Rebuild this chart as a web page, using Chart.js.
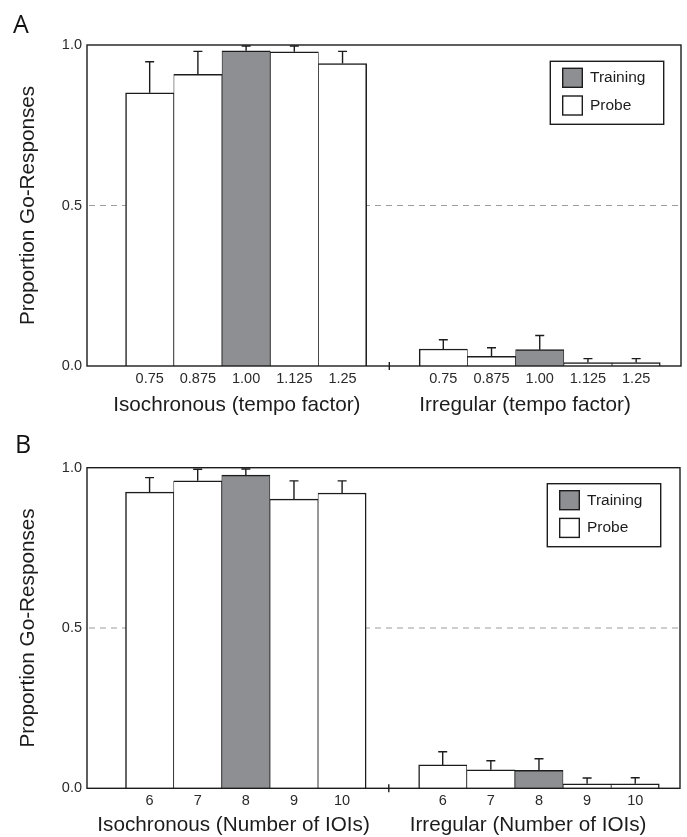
<!DOCTYPE html>
<html><head><meta charset="utf-8">
<script src="https://cdn.jsdelivr.net/npm/chart.js@4.4.1/dist/chart.umd.min.js"></script>
<style>
html,body{margin:0;padding:0;background:#fff;}
#wrap{position:relative;width:687px;height:837px;overflow:hidden;background:#fff;}
canvas{position:absolute;left:0;}
#ca{top:0;width:687px;height:418px;}
#cb{top:418px;width:687px;height:419px;}
</style></head><body>
<div id="wrap"><canvas id="ca" width="687" height="418"></canvas><canvas id="cb" width="687" height="419"></canvas></div>
<script>
// ---- data ----
const seriesNames = ['Training', 'Probe'];
const tempoLabels = ['0.75', '0.875', '1.00', '1.125', '1.25'];
const ioiLabels = ['6', '7', '8', '9', '10'];
const trainingIndex = 2;

const isoTempoMeans = [0.851, 0.909, 0.982, 0.979, 0.942];
const isoTempoErr   = [0.097, 0.071, 0.015, 0.018, 0.038];
const irrTempoMeans = [0.053, 0.030, 0.051, 0.011, 0.011];
const irrTempoErr   = [0.029, 0.027, 0.044, 0.012, 0.012];

const isoIoiMeans = [0.924, 0.959, 0.977, 0.902, 0.921];
const isoIoiErr   = [0.045, 0.036, 0.019, 0.057, 0.038];
const irrIoiMeans = [0.073, 0.058, 0.056, 0.014, 0.014];
const irrIoiErr   = [0.041, 0.028, 0.036, 0.018, 0.019];

const yTicks = [0, 0.5, 1.0];
const chanceLevel = 0.5;

// ---- layout / style ----
const FONT = '"Liberation Sans", Arial, Helvetica, sans-serif';
const INK = '#1c1c1c';
const GRAY = '#8e8f92';
const GROUP_START = [1.3, 7.39];
const X_MAX = 12.32;
const SEPARATOR = 6.27;

function makePanel(cfg) {
  const training = [], probe = [];
  const tickVals = [], tickText = [];
  const firstX = new Set(), lastX = new Set();
  [[cfg.iso, cfg.isoErr], [cfg.irr, cfg.irrErr]].forEach(([m, e], g) => {
    m.forEach((v, i) => {
      const x = GROUP_START[g] + i;
      if (i === 0) firstX.add(x);
      if (i === m.length - 1) lastX.add(x);
      (i === trainingIndex ? training : probe).push({x: x, y: v, err: e[i]});
      tickVals.push(x);
      tickText.push(cfg.labels[i]);
    });
  });

  const bw = (ctx) => {
    const x = ctx.raw ? ctx.raw.x : 0;
    return {top: 1.5, bottom: 0, left: firstX.has(x) ? 1.5 : 0.75, right: lastX.has(x) ? 1.5 : 0.75};
  };

  const panelPlugin = {
    id: 'panel',
    beforeDatasetsDraw(chart) {
      const {ctx, chartArea: a, scales: {y}} = chart;
      const yy = y.getPixelForValue(chanceLevel);
      ctx.save();
      ctx.strokeStyle = '#9c9c9c';
      ctx.lineWidth = 1.2;
      ctx.setLineDash([6, 5]);
      ctx.beginPath();
      ctx.moveTo(a.left + 2, yy);
      ctx.lineTo(a.right, yy);
      ctx.stroke();
      ctx.restore();
    },
    afterDatasetsDraw(chart) {
      const {ctx, chartArea: a, scales: {x, y}} = chart;
      ctx.save();
      ctx.strokeStyle = INK;
      ctx.lineWidth = 1.4;
      chart.data.datasets.forEach((ds, di) => {
        const meta = chart.getDatasetMeta(di);
        meta.data.forEach((bar, i) => {
          const d = ds.data[i];
          const yt = y.getPixelForValue(d.y + d.err);
          ctx.beginPath();
          ctx.moveTo(bar.x, bar.y);
          ctx.lineTo(bar.x, yt);
          ctx.moveTo(bar.x - 4.5, yt);
          ctx.lineTo(bar.x + 4.5, yt);
          ctx.stroke();
        });
      });
      // frame
      ctx.lineWidth = 1.4;
      ctx.strokeRect(a.left, a.top, a.right - a.left, a.bottom - a.top);
      // separator tick between groups
      const sx = x.getPixelForValue(SEPARATOR);
      ctx.beginPath();
      ctx.moveTo(sx, a.bottom - 4);
      ctx.lineTo(sx, a.bottom + 4);
      ctx.stroke();
      ctx.restore();
    },
    afterDraw(chart) {
      const {ctx, chartArea: a, scales: {x}} = chart;
      ctx.save();
      // group titles
      ctx.fillStyle = INK;
      ctx.font = '20.7px ' + FONT;
      ctx.textAlign = 'center';
      ctx.textBaseline = 'middle';
      ctx.fillText(cfg.isoTitle, x.getPixelForValue(cfg.titleAt[0]), cfg.titleY);
      ctx.fillText(cfg.irrTitle, x.getPixelForValue(cfg.titleAt[1]), cfg.titleY);
      // panel letter
      ctx.font = '25px "Open Sans", ' + FONT;
      ctx.textAlign = 'left';
      ctx.textBaseline = 'alphabetic';
      ctx.fillStyle = '#111';
      ctx.fillText(cfg.letter, cfg.letterPos[0], cfg.letterPos[1]);
      // legend
      const L = a.right - cfg.legend[0] - 113.4, T = a.top + cfg.legend[1];
      ctx.lineWidth = 1.4;
      ctx.strokeStyle = INK;
      ctx.fillStyle = '#fff';
      ctx.fillRect(L, T, 113.4, 63);
      ctx.strokeRect(L, T, 113.4, 63);
      const colors = [GRAY, '#ffffff'];
      seriesNames.forEach((name, k) => {
        const sy = T + 7 + k * 27.7;
        ctx.fillStyle = colors[k];
        ctx.fillRect(L + 12.4, sy, 19.6, 19);
        ctx.strokeRect(L + 12.4, sy, 19.6, 19);
        ctx.fillStyle = INK;
        ctx.font = '15.5px ' + FONT;
        ctx.textBaseline = 'middle';
        ctx.fillText(name, L + 39.7, sy + 9.8);
      });
      ctx.restore();
    }
  };

  return new Chart(document.getElementById(cfg.id), {
    type: 'bar',
    data: {
      datasets: [
        {label: seriesNames[0], data: training, backgroundColor: GRAY, borderColor: INK, borderWidth: bw, grouped: false, barPercentage: 1, categoryPercentage: 1},
        {label: seriesNames[1], data: probe, backgroundColor: '#ffffff', borderColor: INK, borderWidth: bw, grouped: false, barPercentage: 1, categoryPercentage: 1}
      ]
    },
    options: {
      responsive: false,
      devicePixelRatio: 1,
      animation: false,
      layout: {padding: {top: cfg.padTop, right: cfg.padRight, left: 0, bottom: 0}},
      plugins: {legend: {display: false}, tooltip: {enabled: false}},
      scales: {
        x: {
          type: 'linear', min: 0, max: X_MAX, offset: false,
          grid: {display: false, drawTicks: false},
          border: {display: false},
          afterBuildTicks: (s) => { s.ticks = tickVals.map(v => ({value: v})); },
          afterFit: (s) => { s.height = cfg.xAxisH; },
          ticks: {
            autoSkip: false, maxRotation: 0, padding: 4,
            color: '#2a2a2a', font: {family: FONT, size: 14.5},
            callback: (v, i) => tickText[i]
          }
        },
        y: {
          min: 0, max: 1,
          grid: {display: false, drawTicks: false},
          border: {display: false},
          afterBuildTicks: (s) => { s.ticks = yTicks.map(v => ({value: v})); },
          afterFit: (s) => { s.width = 87; },
          ticks: {
            padding: 5, color: '#2a2a2a', font: {family: FONT, size: 14.5},
            callback: (v) => Number(v).toFixed(1)
          },
          title: {
            display: true, text: 'Proportion Go-Responses', color: INK,
            font: {family: FONT, size: 20.7}, padding: {top: 16, bottom: 0}
          }
        }
      }
    },
    plugins: [panelPlugin]
  });
}

makePanel({
  id: 'ca', letter: 'A', letterPos: [13, 33],
  labels: tempoLabels,
  iso: isoTempoMeans, isoErr: isoTempoErr, irr: irrTempoMeans, irrErr: irrTempoErr,
  isoTitle: 'Isochronous (tempo factor)', irrTitle: 'Irregular (tempo factor)',
  titleAt: [3.108, 9.087], titleY: 405,
  padTop: 45, padRight: 6, xAxisH: 52, legend: [17.3, 16.3]
});
makePanel({
  id: 'cb', letter: 'B', letterPos: [15, 35],
  labels: ioiLabels,
  iso: isoIoiMeans, isoErr: isoIoiErr, irr: irrIoiMeans, irrErr: irrIoiErr,
  isoTitle: 'Isochronous (Number of IOIs)', irrTitle: 'Irregular (Number of IOIs)',
  titleAt: [3.046, 9.164], titleY: 407,
  padTop: 49.7, padRight: 7, xAxisH: 48.7, legend: [19.3, 16]
});
</script>
</body></html>
